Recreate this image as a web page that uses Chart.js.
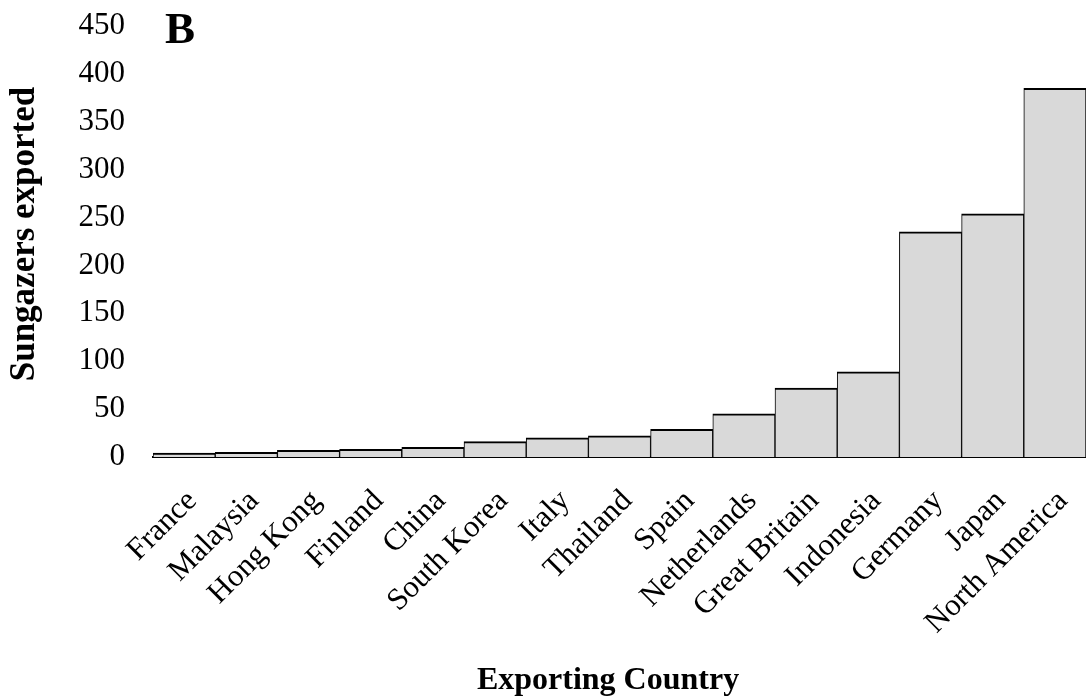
<!DOCTYPE html>
<html>
<head>
<meta charset="utf-8">
<script src="https://cdn.jsdelivr.net/npm/chart.js@4/dist/chart.umd.min.js"></script>
<style>
  html, body { margin: 0; padding: 0; background: #fff; }
  #wrap { width: 1086px; height: 697px; position: relative; }
</style>
</head>
<body>
<div id="wrap"><canvas id="c" width="1086" height="697"></canvas></div>
<script>
// Sungazer exports by country of origin
const countries = ['France', 'Malaysia', 'Hong Kong', 'Finland', 'China', 'South Korea', 'Italy',
  'Thailand', 'Spain', 'Netherlands', 'Great Britain', 'Indonesia', 'Germany', 'Japan', 'North America'];
const exported = [4, 5, 7, 8, 10, 16, 20, 22, 29, 45, 72, 89, 235, 254, 385];
const yTicks = [0, 50, 100, 150, 200, 250, 300, 350, 400, 450];

const SERIF = '"Liberation Serif", "Times New Roman", serif';

// Panel letter and the two axis titles
const annotations = {
  id: 'annotations',
  afterDraw(chart) {
    const ctx = chart.ctx;
    ctx.save();
    ctx.fillStyle = '#000';
    ctx.textBaseline = 'alphabetic';

    ctx.font = 'bold 45px ' + SERIF;
    ctx.textAlign = 'left';
    ctx.fillText('B', 165, 43);

    ctx.font = 'bold 32px ' + SERIF;
    ctx.textAlign = 'center';
    ctx.fillText('Exporting Country', 608, 689);

    ctx.font = 'bold 35px ' + SERIF;
    ctx.translate(34, 234);
    ctx.rotate(-Math.PI / 2);
    ctx.fillText('Sungazers exported', 0, 0);
    ctx.restore();
  }
};

new Chart(document.getElementById('c'), {
  type: 'bar',
  data: {
    labels: countries,
    datasets: [{
      data: exported,
      backgroundColor: '#d9d9d9',
      borderColor: '#000',
      borderWidth: { top: 2, left: 1, right: 1, bottom: 0 },
      borderSkipped: 'start',
      categoryPercentage: 1.0,
      barPercentage: 1.0
    }]
  },
  options: {
    responsive: false,
    animation: false,
    devicePixelRatio: 1,
    layout: { padding: { top: 26, right: 0, bottom: 0, left: 0 } },
    plugins: {
      legend: { display: false },
      tooltip: { enabled: false }
    },
    scales: {
      x: {
        grid: { display: false, drawTicks: false },
        border: { display: true, color: '#000', width: 2 },
        ticks: {
          color: '#000',
          font: { family: SERIF, size: 31 },
          minRotation: 45,
          maxRotation: 45,
          padding: 26,
          labelOffset: 8,
          autoSkip: false
        },
        afterFit(scale) {
          scale.height = 240;
          scale.paddingLeft = 0;
          scale.paddingRight = 0;
        }
      },
      y: {
        min: 0,
        max: 450,
        afterBuildTicks(scale) { scale.ticks = yTicks.map(v => ({ value: v })); },
        grid: { display: false, drawTicks: false },
        border: { display: false },
        ticks: {
          color: '#000',
          font: { family: SERIF, size: 31 },
          padding: 28
        },
        afterFit(scale) {
          scale.width = 153;
          scale.paddingTop = 0;
          scale.paddingBottom = 0;
        }
      }
    }
  },
  plugins: [annotations]
});
</script>
</body>
</html>
